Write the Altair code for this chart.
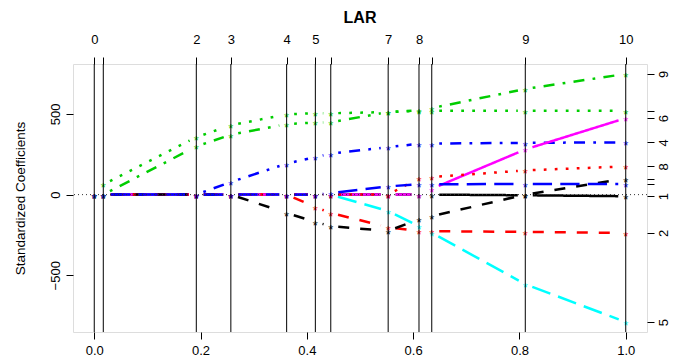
import math
import altair as alt
import pandas as pd

# ---- data ----
steps = [0.0, 0.017, 0.192, 0.257, 0.362, 0.416, 0.445, 0.553, 0.611, 0.635, 0.811, 1.0]
step_labels = ["0", "", "2", "3", "4", "5", "", "7", "8", "", "9", "10"]

variables = ["1", "2", "3", "4", "5", "6", "7", "8", "9", "10"]
coef_1 = [0, 0, 0, 0, 0, 0, 0, 0, 0, 0, -4, -10]
coef_2 = [0, 0, 0, 0, 0, -77, -114, -202, -227, -227, -231, -238]
coef_3 = [0, 63, 356, 430, 497, 505, 504, 512, 519, 520, 520, 520]
coef_4 = [0, 0, 0, 78, 192, 233, 254, 294, 315, 316, 321, 324]
coef_5 = [0, 0, 0, 0, 0, 0, 0, -102, -196, -237, -555, -790]
coef_6 = [0, 0, 0, 0, 0, 0, 0, 0, 0, 36, 280, 474]
coef_7 = [0, 0, 0, 0, -114, -169, -196, -225, -153, -134, 0, 99]
coef_8 = [0, 0, 0, 0, 0, 0, 0, 0, 103, 109, 150, 175]
coef_9 = [0, 0, 299, 371, 437, 447, 448, 512, 523, 536, 655, 748]
coef_10 = [0, 0, 0, 0, 0, 0, 10, 51, 64, 64, 66, 66]
coefs = [coef_1, coef_2, coef_3, coef_4, coef_5, coef_6, coef_7, coef_8, coef_9, coef_10]

right_labels = ["1", "2", "", "4", "5", "6", "", "8", "9", ""]
bottom_ticks = [0.0, 0.2, 0.4, 0.6, 0.8, 1.0]
left_ticks = [-500, 0, 500]

colors = ["#000000", "#FF0000", "#00CD00", "#0000FF", "#00FFFF",
          "#FF00FF", "#000000", "#FF0000", "#00CD00", "#0000FF"]
u = 2.75
dash_solid = [1, 0]
dash_dashed = [4 * u, 4 * u]
dash_dotted = [1 * u, 3 * u]
dash_dotdash = [1 * u, 3 * u, 4 * u, 3 * u]
dash_long = [7 * u, 3 * u]
dashes = [dash_solid, dash_dashed, dash_dotted, dash_dotdash, dash_long,
          dash_solid, dash_dashed, dash_dotted, dash_dotdash, dash_long]

FONT = "Liberation Sans"
W, H = 574, 268

# R-style 4% range extension
xlo, xhi = -0.04, 1.04
allv = [v for c in coefs for v in c]
ymin, ymax = min(allv), max(allv)
span = ymax - ymin
ylo, yhi = ymin - 0.04 * span, ymax + 0.04 * span
sx = W / (xhi - xlo)
sy = H / (yhi - ylo)
GAP = 7.5  # type="b" gap around points, in px

seg_rows = []
for vi, c in zip(variables, coefs):
    for i in range(len(steps) - 1):
        x0, x1 = steps[i], steps[i + 1]
        y0, y1 = c[i], c[i + 1]
        L = math.hypot((x1 - x0) * sx, (y1 - y0) * sy)
        if L <= 2 * GAP:
            continue
        f = GAP / L
        sid = f"{int(vi):02d}-{i:02d}"
        seg_rows.append(dict(var=vi, seg=sid, o=0, x=x0 + f * (x1 - x0), y=y0 + f * (y1 - y0)))
        seg_rows.append(dict(var=vi, seg=sid, o=1, x=x1 - f * (x1 - x0), y=y1 - f * (y1 - y0)))
seg_df = pd.DataFrame(seg_rows)

pt_rows = []
for vi, c in zip(variables, coefs):
    for s, v in zip(steps, c):
        pt_rows.append(dict(var=vi, x=s, y=v))
pt_df = pd.DataFrame(pt_rows)

steps_df = pd.DataFrame({"x": steps, "label": step_labels})
final_vals = [c[-1] for c in coefs]
final_df = pd.DataFrame({"var": variables, "y": final_vals, "label": right_labels})


def label_expr(vals, labs):
    expr = "''"
    for v, l in reversed(list(zip(vals, labs))):
        expr = f"datum.value == {v} ? '{l}' : ({expr})"
    return expr


xscale = alt.Scale(domain=[xlo, xhi], nice=False, zero=False)
yscale = alt.Scale(domain=[ylo, yhi], nice=False, zero=False)
cscale = alt.Scale(domain=variables, range=colors)
dscale = alt.Scale(domain=variables, range=dashes)

axis_common = dict(labelFont=FONT, labelFontSize=13, labelColor="black",
                   tickColor="black", tickSize=7, tickWidth=1, domain=False,
                   grid=False, title=None, labelOverlap=False, labelFlush=False)

bottom_axis = alt.Axis(orient="bottom", values=bottom_ticks, format=".1f",
                       labelPadding=5, labelAngle=0, **axis_common)
top_axis = alt.Axis(orient="top", values=steps, labelExpr=label_expr(steps, step_labels),
                    labelPadding=11, labelAngle=0, **axis_common)
left_common = dict(axis_common)
left_common.pop("title")
left_axis = alt.Axis(orient="left", values=left_ticks,
                     labelExpr="replace(datum.label, '-', '\u2212')",
                     labelAngle=270, labelAlign="center", labelBaseline="bottom",
                     labelPadding=4, title="Standardized Coefficients",
                     titleFont=FONT, titleFontSize=13.5, titleFontWeight="normal",
                     titleColor="black", titlePadding=22, **left_common)
right_axis = alt.Axis(orient="right", values=final_vals,
                      labelExpr=label_expr(final_vals, right_labels),
                      labelAngle=270, labelAlign="center", labelBaseline="top",
                      labelPadding=3, **axis_common)

zero_line = alt.Chart(pd.DataFrame({"y": [0]})).mark_rule(
    color="#333333", strokeWidth=1, strokeDash=[1, 3]
).encode(y=alt.Y("y:Q", scale=yscale, axis=left_axis))

lines = alt.Chart(seg_df).mark_line(strokeWidth=2.5, strokeCap="butt").encode(
    x=alt.X("x:Q", scale=xscale, axis=bottom_axis),
    y=alt.Y("y:Q", scale=yscale, axis=None),
    color=alt.Color("var:N", scale=cscale, legend=None),
    strokeDash=alt.StrokeDash("var:N", scale=dscale, legend=None),
    detail="seg:N",
    order="o:Q",
)

stars = alt.Chart(pt_df).mark_text(text="*", font=FONT, fontSize=13, dy=4).encode(
    x=alt.X("x:Q", scale=xscale, axis=None),
    y=alt.Y("y:Q", scale=yscale, axis=None),
    color=alt.Color("var:N", scale=cscale, legend=None),
)

vrules = alt.Chart(steps_df).mark_rule(color="black", strokeWidth=1).encode(
    x=alt.X("x:Q", scale=xscale, axis=top_axis)
)

right = alt.Chart(final_df).mark_point(opacity=0).encode(
    y=alt.Y("y:Q", scale=yscale, axis=right_axis)
)

chart = alt.layer(lines, stars, zero_line, vrules, right).resolve_axis(
    x="independent", y="independent"
).properties(
    width=W, height=H,
    title=alt.Title("LAR", font=FONT, fontSize=16, fontWeight="bold", color="black",
                    anchor="middle", offset=7),
    padding={"left": 65, "top": 56, "right": 23, "bottom": 24},
    autosize="none",
).configure_view(stroke="black", strokeWidth=1).configure(background="white")

chart.save("out.html", embed_options={"renderer": "svg", "actions": False})
